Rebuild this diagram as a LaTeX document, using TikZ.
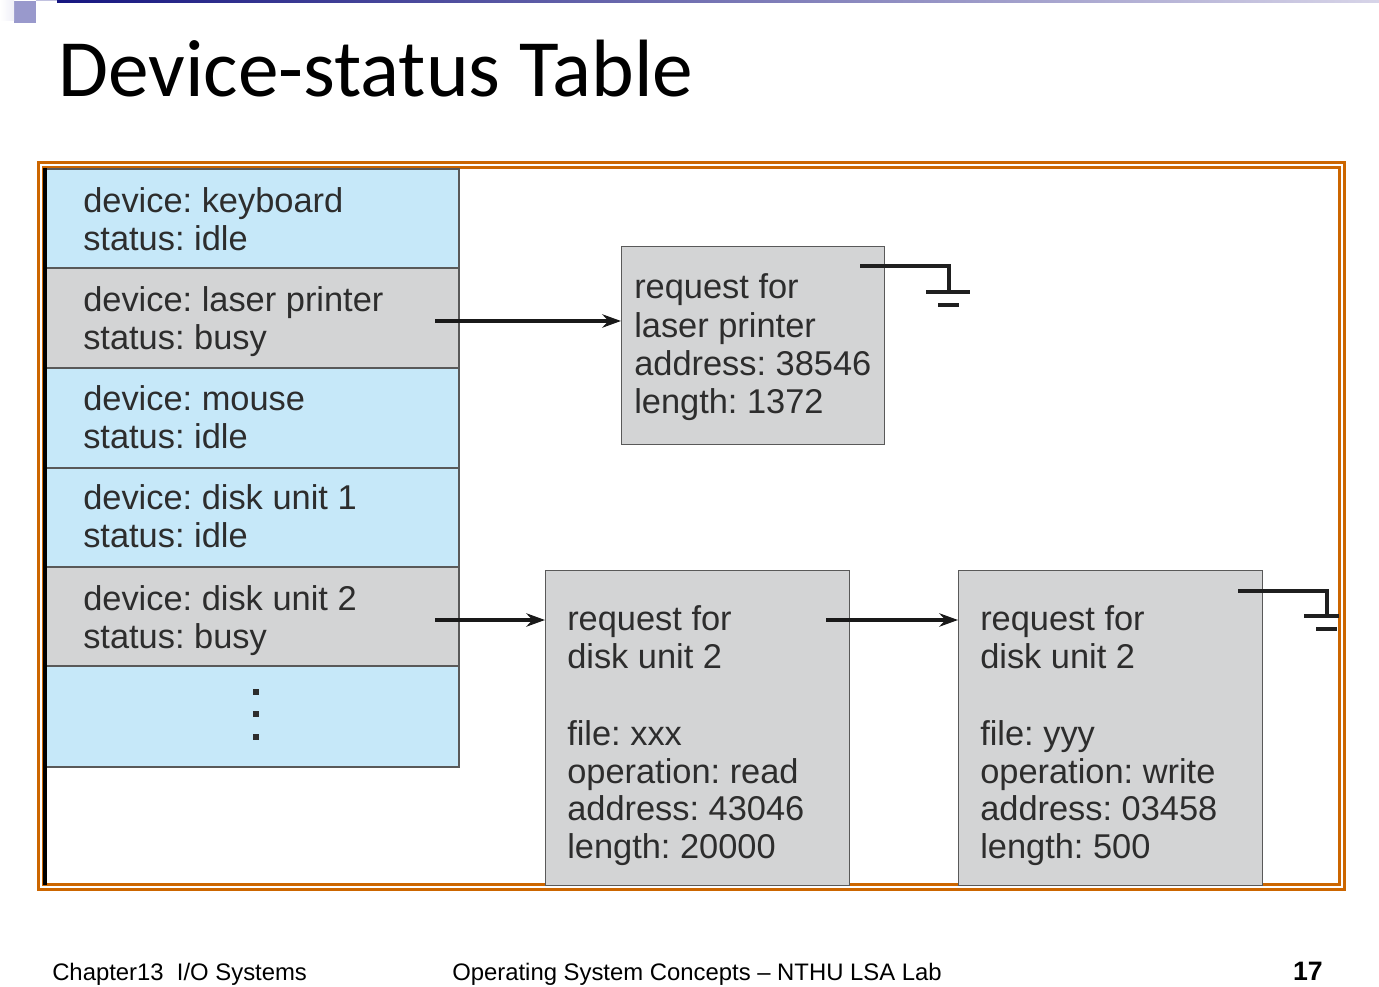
\documentclass[tikz,border=0pt]{standalone}
\usepackage{fontspec}
\setmainfont{Liberation Sans}
\newfontfamily\titlefont{Carlito}
\usetikzlibrary{arrows.meta}
\frenchspacing
\definecolor{rowblue}{RGB}{198,232,249}
\definecolor{rowgray}{RGB}{211,212,213}
\definecolor{frameorange}{RGB}{204,102,0}
\definecolor{txtgray}{RGB}{45,45,45}
\definecolor{navy}{RGB}{22,22,128}
\definecolor{lav}{RGB}{153,153,204}
\begin{document}
\begin{tikzpicture}[x=0.75pt,y=-0.75pt,
  rowbox/.style={draw=black!65,line width=1pt},
  reqbox/.style={draw=black!65,line width=1pt,fill=rowgray},
  txt/.style={anchor=base west,inner sep=0pt,text=txtgray,font=\fontsize{25.8pt}{29pt}\selectfont},
  foot/.style={anchor=base west,inner sep=0pt,text=black,font=\fontsize{17.9pt}{20pt}\selectfont},
  arr/.style={line width=2.4pt,draw=black!90,-{Stealth[length=14pt,width=10pt]}},
  gnd/.style={line width=2.5pt,draw=black!88},
  frame/.style={draw=frameorange,line width=1.7pt}]
\useasboundingbox (0,0) rectangle (1379,987);
\fill[white] (0,0) rectangle (1379,987);
% header decoration
\shade[left color=navy,right color={rgb,255:red,215;green,212;blue,232}] (57,0) rectangle (1379,2.4);
\fill[lav!60] (36,0) rectangle (57,1.4);
\fill[lav] (14,1) rectangle (36,23);
\shade[left color=white,right color=lav!15] (0,0) rectangle (14,21);
% title
\node[anchor=base west,inner sep=0pt,font=\titlefont\fontsize{61pt}{68pt}\selectfont] (title) at (58,97) {Device-status Table};
% frame
\draw[frame] (38.5,162.5) rectangle (1344.5,889.5);
\draw[frame] (43.5,167.5) rectangle (1339.5,884.5);
% table rows
\path[rowbox,fill=rowblue] (46,169) rectangle (459,268) coordinate (r1);
\path[rowbox,fill=rowgray] (46,268) rectangle (459,368) coordinate (r2);
\path[rowbox,fill=rowblue] (46,368) rectangle (459,468) coordinate (r3);
\path[rowbox,fill=rowblue] (46,468) rectangle (459,567) coordinate (r4);
\path[rowbox,fill=rowgray] (46,567) rectangle (459,666) coordinate (r5);
\path[rowbox,fill=rowblue] (46,666) rectangle (459,767) coordinate (r6);
\draw[line width=2.4pt,black] (45,168) -- (45,885);
% table text
\node[txt] (k1) at (83,213) {device: keyboard};
\node[txt] (k2) at (83,251) {status: idle};
\node[txt] (l1) at (83,312) {device: laser printer};
\node[txt] (l2) at (83,350) {status: busy};
\node[txt] (m1) at (83,411) {device: mouse};
\node[txt] (m2) at (83,449) {status: idle};
\node[txt] (d1) at (83,510) {device: disk unit 1};
\node[txt] (d2) at (83,548) {status: idle};
\node[txt] (e1) at (83,610) {device: disk unit 2};
\node[txt] (e2) at (83,648) {status: busy};
\foreach \yy [count=\i] in {692,714,737} \fill[txtgray] (253.3,\yy-2.7) rectangle (258.7,\yy+2.7) coordinate (dot\i);
% request boxes
\node[reqbox,anchor=north west,minimum width=263*0.75pt,minimum height=198*0.75pt,inner sep=0pt] (req1) at (621,246) {};
\node[txt] (q11) at (634,299) {request for};
\node[txt] (q12) at (634,338) {laser printer};
\node[txt] (q13) at (634,376) {address: 38546};
\node[txt] (q14) at (634,414) {length: 1372};
\node[reqbox,anchor=north west,minimum width=304*0.75pt,minimum height=315*0.75pt,inner sep=0pt] (req2) at (545,570) {};
\node[txt] (q21) at (567,630) {request for};
\node[txt] (q22) at (567,668) {disk unit 2};
\node[txt] (q23) at (567,745) {file: xxx};
\node[txt] (q24) at (567,783) {operation: read};
\node[txt] (q25) at (567,820) {address: 43046};
\node[txt] (q26) at (567,858) {length: 20000};
\node[reqbox,anchor=north west,minimum width=304*0.75pt,minimum height=315*0.75pt,inner sep=0pt] (req3) at (958,570) {};
\node[txt] (q31) at (980,630) {request for};
\node[txt] (q32) at (980,668) {disk unit 2};
\node[txt] (q33) at (980,745) {file: yyy};
\node[txt] (q34) at (980,783) {operation: write};
\node[txt] (q35) at (980,820) {address: 03458};
\node[txt] (q36) at (980,858) {length: 500};
% arrows
\coordinate (a1) at (435,321);
\coordinate (a2) at (435,620);
\coordinate (a3) at (826,620);
\draw[arr] (a1) -- (a1 -| req1.west);
\draw[arr] (a2) -- (a2 -| req2.west);
\draw[arr] (a3) -- (a3 -| req3.west);
% ground symbols
\coordinate (g1) at (860,266);
\draw[gnd] (g1) -- (949,266) -- (949,292);
\draw[gnd] (926,292) -- (970,292);
\draw[gnd] (938,305) -- (959,305);
\coordinate (g2) at (1238,591);
\draw[gnd] (g2) -- (1327,591) -- (1327,616);
\draw[gnd] (1304,616) -- (1339,616);
\draw[gnd] (1316,629) -- (1337,629);
% footer
\node[foot] (f1) at (52,980) {Chapter13\ \ I/O Systems};
\node[foot] (f2) at (452,980) {Operating System Concepts -- NTHU LSA Lab};
\node[foot,anchor=base east,font=\bfseries\fontsize{20pt}{22pt}\selectfont] (f3) at (1323,980) {17};
\end{tikzpicture}
\end{document}
